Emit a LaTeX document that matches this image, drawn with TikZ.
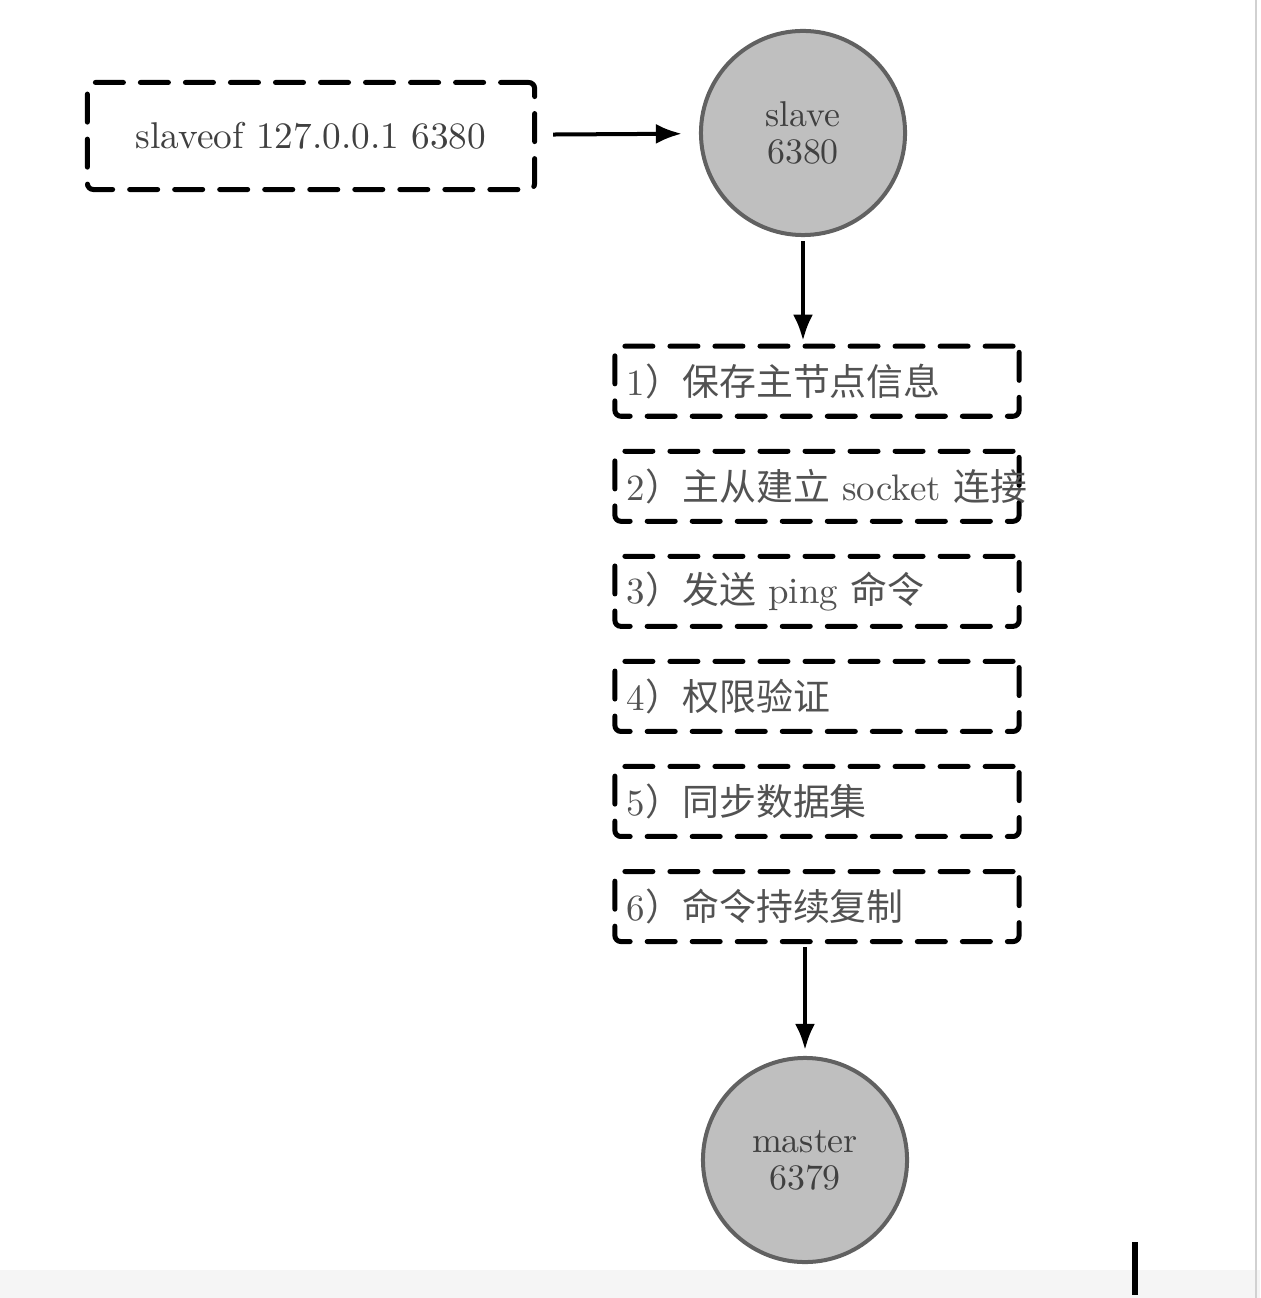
\documentclass[tikz,border=0pt]{standalone}
\usepackage{fontspec}
\usepackage{tikz}
\usetikzlibrary{matrix}
\usetikzlibrary{arrows.meta}
\newfontfamily\cjk{Noto Sans CJK SC}
\newcommand{\zh}[1]{{\cjk #1}}

\begin{document}
\begin{tikzpicture}[x=0.01cm,y=-0.01cm]

\tikzset{dash box/.style={draw, line width=0.05cm, line cap=round,
      dash pattern=on 0.28cm off 0.17cm, rounded corners=0.06cm},
  redis node/.style={circle, draw=black!62, line width=0.04cm, fill=black!25,
      minimum size=2.04cm, align=center, text=black!75,
      font=\fontsize{10.2}{10.5}\selectfont},
  step list/.style={matrix of nodes, row sep=0.30cm, inner sep=0pt,
    nodes={dash box, text width=3.8cm, minimum height=0.70cm, inner xsep=0.12cm,
      inner ysep=0.08cm, align=left, text=black!68, font=\fontsize{10.5}{12}\selectfont}
  },
  flow/.style={-{Latex[length=0.26cm,width=0.2cm]}, line width=0.04cm}
}
\useasboundingbox (0,0) rectangle (1260,1298);
\fill[black!4] (0,1270) rectangle (1260,1298);
\draw[black!18, line width=0.02cm] (1256,0) -- (1256,1298);

\node[dash box, minimum width=4.47cm, minimum height=1.07cm,
  font=\fontsize{10.6}{13}\selectfont, text=black!75] (cmd) at (311,136)
  {slaveof 127.0.0.1 6380};
\node[redis node] (slave) at (803,133) {slave\\6380};

\matrix[step list, anchor=north] (steps) at (817,343) {
1\zh{）保存主节点信息} \\
\mbox{2\zh{）主从建立} socket \zh{连接}} \\
3\zh{）发送} ping \zh{命令} \\
4\zh{）权限验证} \\
5\zh{）同步数据集} \\
6\zh{）命令持续复制} \\
};

\node[redis node] (master) at (805,1160) {master\\6379};

\draw[flow, shorten <=0.16cm, shorten >=0.17cm] (cmd) -- (slave);
\draw[flow, shorten <=0.04cm, shorten >=0.03cm] (slave.south) -- (slave.south |- steps-1-1.north);
\draw[flow, shorten <=0.03cm, shorten >=0.06cm] (master.north |- steps-6-1.south) -- (master.north);

\fill (1132,1242) rectangle (1138,1295);
\end{tikzpicture}
\end{document}
